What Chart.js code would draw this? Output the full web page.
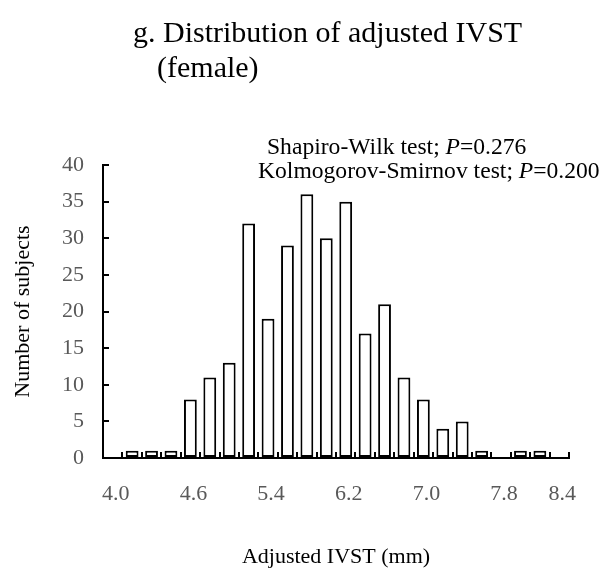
<!DOCTYPE html>
<html><head><meta charset="utf-8">
<script src="https://cdn.jsdelivr.net/npm/chart.js@4/dist/chart.umd.min.js"></script>
<style>html,body{margin:0;padding:0;background:#fff}#wrap{width:606px;height:585px;position:relative}</style>
</head><body><div id="wrap"><canvas id="c" width="606" height="585"></canvas></div>
<script>
// ---- data ----
const binLabels = ['4.0','','','','4.6','','','','5.4','','','','6.2','','','','7.0','','','','7.8','','','8.4'];
const counts    = [0,1,1,1,8,11,13,32,19,29,36,30,35,17,21,11,8,4,5,1,0,1,1,0];
const yTicks    = [0,5,10,15,20,25,30,35,40];
const titleLines = ['g. Distribution of adjusted IVST','(female)'];
const testLines  = [['Shapiro-Wilk test; ','P','=0.276'],['Kolmogorov-Smirnov test; ','P','=0.200']];
const xTitle = 'Adjusted IVST (mm)';
const yTitle = 'Number of subjects';

const SERIF = '"Liberation Serif", "Times New Roman", serif';
Chart.defaults.font.family = SERIF;

const textPlugin = {
  id: 'texts',
  afterDraw(chart) {
    const c = chart.ctx;
    c.save();
    c.fillStyle = '#000';
    c.textBaseline = 'middle';
    c.textAlign = 'left';
    c.font = '30px ' + SERIF;
    c.fillText(titleLines[0], 133, 34);
    c.fillText(titleLines[1], 157, 69);
    const starts = [267, 258];
    const ys = [148, 172];
    testLines.forEach((parts, li) => {
      let x = starts[li];
      parts.forEach((p, pi) => {
        c.font = (pi === 1 ? 'italic ' : '') + '23.6px ' + SERIF;
        c.fillText(p, x, ys[li]);
        x += c.measureText(p).width;
      });
    });
    c.restore();
  }
};

new Chart(document.getElementById('c'), {
  type: 'bar',
  data: {
    labels: binLabels,
    datasets: [{
      data: counts,
      backgroundColor: '#fff',
      borderColor: '#000',
      borderWidth: 2,
      borderSkipped: false,
      barPercentage: 0.66,
      categoryPercentage: 1
    }]
  },
  options: {
    responsive: false,
    animation: false,
    devicePixelRatio: 1,
    layout: { padding: { top: 165, right: 37, left: 5, bottom: 10 } },
    plugins: { legend: { display: false }, tooltip: { enabled: false }, title: { display: false } },
    scales: {
      x: {
        offset: true,
        grid: { display: true, offset: true, drawOnChartArea: false, drawTicks: true, tickLength: -6, color: '#000', lineWidth: 2 },
        border: { display: true, color: '#000', width: 2 },
        ticks: { autoSkip: false, maxRotation: 0, minRotation: 0, color: '#595959', font: { size: 22 }, padding: 29, labelOffset: 3 },
        title: { display: true, text: xTitle, color: '#000', font: { size: 22 }, padding: { top: 0, bottom: 5 } },
        afterFit(s) { s.height = 117; }
      },
      y: {
        min: 0, max: 40,
        afterBuildTicks(s) { s.ticks = yTicks.map(v => ({ value: v })); },
        grid: { display: true, drawOnChartArea: false, drawTicks: true, tickLength: -6, color: '#000', lineWidth: 2 },
        border: { display: true, color: '#000', width: 2 },
        ticks: { color: '#595959', font: { size: 22 }, padding: 25 },
        title: { display: true, text: yTitle, color: '#000', font: { size: 22 }, padding: { top: 5, bottom: 0 } },
        afterFit(s) { s.width = 98; }
      }
    }
  },
  plugins: [textPlugin]
});
</script>
</body></html>
